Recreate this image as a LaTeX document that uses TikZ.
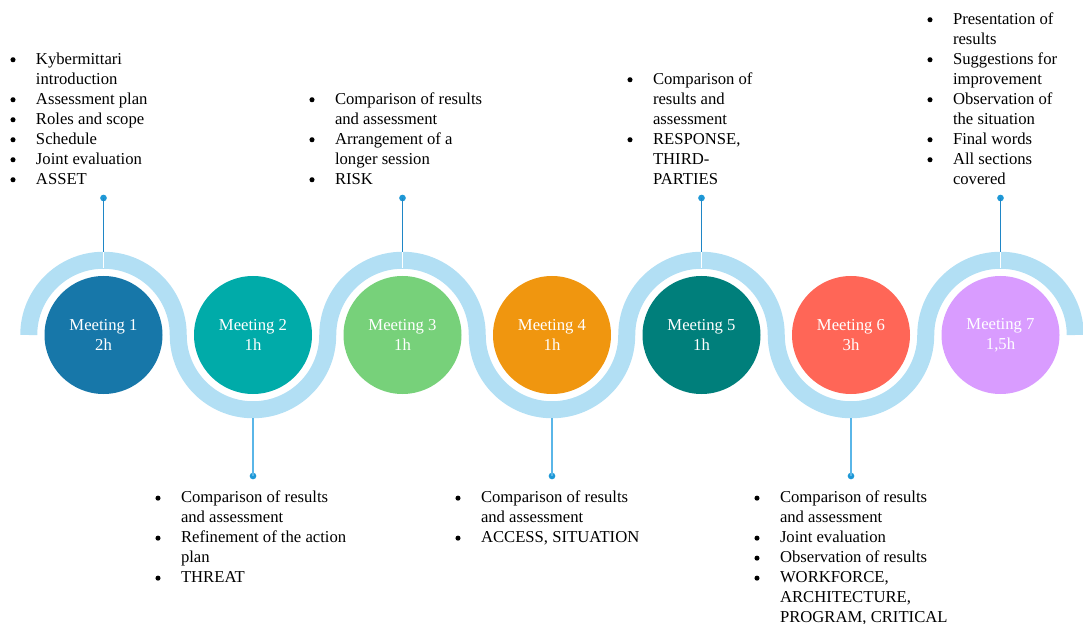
\documentclass[tikz,border=0pt]{standalone}
\usepackage{fontspec}
\setmainfont{Liberation Serif}
\definecolor{c1}{HTML}{1777A9}
\definecolor{c2}{HTML}{00ABA9}
\definecolor{c3}{HTML}{77D17A}
\definecolor{c4}{HTML}{F0960F}
\definecolor{c5}{HTML}{007F7B}
\definecolor{c6}{HTML}{FF6657}
\definecolor{c7}{HTML}{D99CFF}
\definecolor{bandblue}{HTML}{B2DFF4}
\definecolor{dotblue}{HTML}{1E98D6}
\definecolor{uplink}{HTML}{1F86C6}
\definecolor{downlink}{HTML}{5AB6E8}
% round bullet hanging to the left of the text column
\newcommand\bulit{\llap{\tikz[baseline=0pt]\fill[black] (0,3.2pt) circle (1.9pt);\hspace{15.35pt}}}
% fixed line box so that every line has the same height and depth
\newcommand\Ls{\rule[-3.5pt]{0pt}{11.5pt}}
\begin{document}
\begin{tikzpicture}[x=0.75pt,y=-0.75pt,
  every node/.style={inner sep=0pt, outer sep=0pt},
  txt/.style={font=\fontsize{12.5}{15}\selectfont, align=left, text=black},
  meet/.style={circle, minimum size=88.5pt, text=white, align=center,
               font=\fontsize{12.5}{15}\selectfont},
  dotmark/.style={circle, fill=dotblue, minimum size=5pt},
  band/.style={draw=bandblue, line width=12.75pt},
  upconn/.style={draw=uplink, line width=1pt},
  downconn/.style={draw=downlink, line width=1.2pt},
  seam/.style={draw=white, line width=0.6pt}]
\useasboundingbox (0,0) rectangle (1083,624);

% winding band: alternating half circles over and under the meetings
\draw[band] (28.75,335)
  arc[start angle=180, end angle=0,   radius=56.0625pt]
  arc[start angle=180, end angle=360, radius=56.0625pt]
  arc[start angle=180, end angle=0,   radius=56.0625pt]
  arc[start angle=180, end angle=360, radius=56.0625pt]
  arc[start angle=180, end angle=0,   radius=56.0625pt]
  arc[start angle=180, end angle=360, radius=56.0625pt]
  arc[start angle=180, end angle=0,   radius=56.0625pt];

% meetings
\node[meet, fill=c1] (m1) at (103.5,335) {Meeting 1\\2h};
\node[meet, fill=c2] (m2) at (253,335)   {Meeting 2\\1h};
\node[meet, fill=c3] (m3) at (402.5,335) {Meeting 3\\1h};
\node[meet, fill=c4] (m4) at (552,335)   {Meeting 4\\1h};
\node[meet, fill=c5] (m5) at (701.5,335) {Meeting 5\\1h};
\node[meet, fill=c6] (m6) at (851,335)   {Meeting 6\\3h};
\node[meet, fill=c7] (m7) at (1000.5,335) {Meeting 7\\1,5h};

% band edge points where the connectors end
\coordinate (e1) at (103.5,251.75);
\coordinate (e3) at (402.5,251.75);
\coordinate (e5) at (701.5,251.75);
\coordinate (e7) at (1000.5,251.75);
\coordinate (e2) at (253,418.25);
\coordinate (e4) at (552,418.25);
\coordinate (e6) at (851,418.25);

% thin white seams across the upper arcs
\foreach \i in {1,3,5,7} \draw[seam] (e\i) -- ++(0,16.5);

% connector dots
\node[dotmark] (d1) at (103.5,198) {};
\node[dotmark] (d3) at (402.5,198) {};
\node[dotmark] (d5) at (701.5,198) {};
\node[dotmark] (d7) at (1000.5,198) {};
\node[dotmark] (d2) at (253,476) {};
\node[dotmark] (d4) at (552,476) {};
\node[dotmark] (d6) at (851,476) {};

\draw[upconn] (d1.center) -- (e1);
\draw[upconn] (d3.center) -- (e3);
\draw[upconn] (d5.center) -- (e5);
\draw[upconn] (d7.center) -- (e7);
\draw[downconn] (d2.center) -- (e2);
\draw[downconn] (d4.center) -- (e4);
\draw[downconn] (d6.center) -- (e6);

% agenda lists above the band
\node[txt, anchor=south west] (l1) at (36,188.67) {%
\bulit Kybermittari\Ls\\
introduction\Ls\\
\bulit Assessment plan\Ls\\
\bulit Roles and scope\Ls\\
\bulit Schedule\Ls\\
\bulit Joint evaluation\Ls\\
\bulit ASSET\Ls};

\node[txt, anchor=south west] (l3) at (335,188.67) {%
\bulit Comparison of results\Ls\\
and assessment\Ls\\
\bulit Arrangement of a\Ls\\
longer session\Ls\\
\bulit RISK\Ls};

\node[txt, anchor=south west] (l5) at (653,188.67) {%
\bulit Comparison of\Ls\\
results and\Ls\\
assessment\Ls\\
\bulit RESPONSE,\Ls\\
THIRD-\Ls\\
PARTIES\Ls};

\node[txt, anchor=south west] (l7) at (953,188.67) {%
\bulit Presentation of\Ls\\
results\Ls\\
\bulit Suggestions for\Ls\\
improvement\Ls\\
\bulit Observation of\Ls\\
the situation\Ls\\
\bulit Final words\Ls\\
\bulit All sections\Ls\\
covered\Ls};

% agenda lists below the band
\node[txt, anchor=north west] (l2) at (181,490.67) {%
\bulit Comparison of results\Ls\\
and assessment\Ls\\
\bulit Refinement of the action\Ls\\
plan\Ls\\
\bulit THREAT\Ls};

\node[txt, anchor=north west] (l4) at (481,490.67) {%
\bulit Comparison of results\Ls\\
and assessment\Ls\\
\bulit ACCESS, SITUATION\Ls};

\node[txt, anchor=north west] (l6) at (780,490.67) {%
\bulit Comparison of results\Ls\\
and assessment\Ls\\
\bulit Joint evaluation\Ls\\
\bulit Observation of results\Ls\\
\bulit WORKFORCE,\Ls\\
ARCHITECTURE,\Ls\\
PROGRAM, CRITICAL\Ls};
\end{tikzpicture}
\end{document}
